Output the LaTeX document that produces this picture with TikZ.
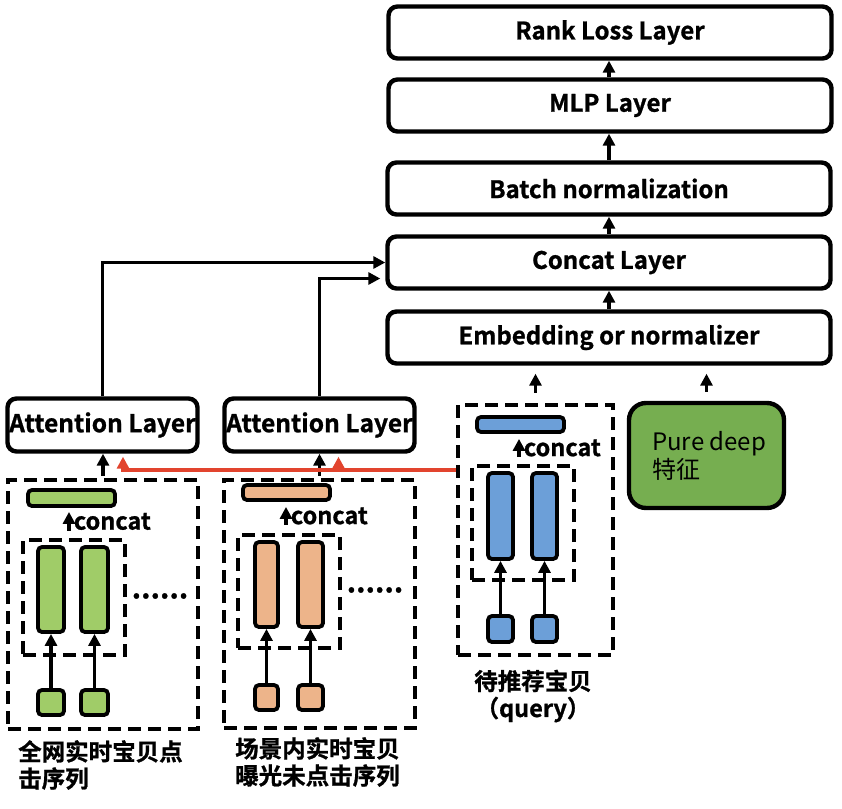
\documentclass[tikz,border=0pt]{standalone}
\usepackage{fontspec}
\setmainfont{Noto Sans CJK SC}[BoldFont={Noto Sans CJK SC Bold},BoldFeatures={FakeBold=1}]
\usetikzlibrary{calc,positioning,arrows.meta}
\definecolor{barGreen}{HTML}{A0CC68}
\definecolor{barOrange}{HTML}{EDB48A}
\definecolor{barBlue}{HTML}{6C9FD8}
\definecolor{deepGreen}{HTML}{76AE50}
\definecolor{lineRed}{HTML}{E2442E}
\begin{document}
\begin{tikzpicture}[x=1pt,y=-1pt,
layer/.style = {draw, line width=4.4pt, rounded corners=9pt, minimum width=443pt, minimum height=52pt, font=\fontsize{24}{28}\selectfont\bfseries, inner sep=0pt},
att/.style = {draw, line width=4.4pt, rounded corners=9pt, minimum width=190pt, minimum height=53pt, font=\fontsize{24.5}{28}\selectfont\bfseries, inner sep=0pt},
dbox/.style = {draw, line width=4.2pt, dash pattern=on 13pt off 7pt, inner sep=0pt},
bar/.style = {draw, line width=3.8pt, rounded corners=4pt, inner sep=0pt},
arr/.style = {line width=3.8pt, -{Triangle[length=12pt,width=12pt]}},
redarr/.style = {draw=lineRed, line width=3.5pt, -{Triangle[length=12pt,width=12pt]}},
tag/.style = {font=\fontsize{23.5}{28}\selectfont\bfseries, inner sep=0pt},
seqlabel/.style = {font=\fontsize{23.5}{27}\selectfont\bfseries, inner sep=0pt, align=left},]
\useasboundingbox (0,0) rectangle (842,808);
\node (R) at (610,32.5)[layer] {Rank Loss Layer};
\node (M) at (610,105.5)[layer] {MLP Layer};
\node (B) at (609,188.5)[layer] {Batch normalization};
\node (C) at (609,262.5)[layer] {Concat Layer};
\node (E) at (609,337.5)[layer] {Embedding or normalizer};
\draw[arr] (E.north -| B.north) -- (C.south -| B.north);
\draw[arr] (C.north -| B.north) -- (B.south);
\draw[arr] (B.north) -- (M.south -| B.north);
\draw[arr] (M.north -| B.north) -- (R.south -| B.north);
\node (A1) at (102.5,425)[att] {Attention Layer};
\node (A2) at (319.5,425)[att] {Attention Layer};
\draw[arr] (A1.north) |- (C.west);
\draw[arr] (A2.north) |- ([xshift=-5pt,yshift=-16pt]C.west);
\node (D1) at (103,604.5)[dbox, minimum width=190pt, minimum height=249pt] {};
\node (D2) at (319.5,604)[dbox, minimum width=191pt, minimum height=248pt] {};
\node (D3) at (535.5,530)[dbox, minimum width=155pt, minimum height=250pt] {};
\node (I1) at (74,597.5)[dbox, minimum width=102pt, minimum height=115pt] {};
\node (I2) at (289,591.5)[dbox, minimum width=102pt, minimum height=113pt] {};
\node (I3) at (523,523)[dbox, minimum width=102pt, minimum height=114pt] {};
\node (G) at (71.5,498)[bar, fill=barGreen, minimum width=87pt, minimum height=16pt] {};
\node (O) at (286.5,492.5)[bar, fill=barOrange, minimum width=87pt, minimum height=15pt] {};
\node (Q) at (520.5,424.5)[bar, fill=barBlue, minimum width=87pt, minimum height=15pt] {};
\node (g1) at (51,589.5)[bar, fill=barGreen, minimum width=26pt, minimum height=85pt] {};
\node (g2) at (94.5,589.5)[bar, fill=barGreen, minimum width=27pt, minimum height=85pt] {};
\node (o1) at (266.5,584.5)[bar, fill=barOrange, minimum width=23pt, minimum height=85pt] {};
\node (o2) at (310.5,584.5)[bar, fill=barOrange, minimum width=25pt, minimum height=85pt] {};
\node (q1) at (500.5,516)[bar, fill=barBlue, minimum width=25pt, minimum height=86pt] {};
\node (q2) at (544.5,516)[bar, fill=barBlue, minimum width=25pt, minimum height=86pt] {};
\node (gs1) at (51,702.5)[bar, fill=barGreen, minimum width=26pt, minimum height=25pt] {};
\node (gs2) at (94.5,702.5)[bar, fill=barGreen, minimum width=27pt, minimum height=25pt] {};
\node (os1) at (266.5,697.5)[bar, fill=barOrange, minimum width=23pt, minimum height=25pt] {};
\node (os2) at (310.5,697.5)[bar, fill=barOrange, minimum width=25pt, minimum height=25pt] {};
\node (qs1) at (500.5,629)[bar, fill=barBlue, minimum width=25pt, minimum height=26pt] {};
\node (qs2) at (544.5,629)[bar, fill=barBlue, minimum width=25pt, minimum height=26pt] {};
\draw[arr] (gs1.north) -- (g1.south);
\draw[arr] (gs2.north) -- (g2.south);
\draw[arr] (os1.north) -- (o1.south);
\draw[arr] (os2.north) -- (o2.south);
\draw[arr] (qs1.north) -- (q1.south);
\draw[arr] (qs2.north) -- (q2.south);
\draw[arr] ($(I1.north)+(-5,-7)$) -- node[right=3pt, tag] {concat} ($(G.south)+(-2.5,4)$);
\draw[arr] ($(I2.north)+(-3,-8)$) -- node[right=3pt, tag] {concat} ($(O.south)+(-0.5,5)$);
\draw[arr] ($(I3.north)+(-4,-7)$) -- node[right=3pt, tag] {concat} ($(Q.south)+(-1.5,5)$);
\node (dots1) at (160,596)[tag, font=\fontsize{29}{30}\selectfont\bfseries] {......};
\node (dots2) at (375,590)[tag, font=\fontsize{29}{30}\selectfont\bfseries] {......};
\node (P) at (706.5,455.5)[draw, line width=4.4pt, rounded corners=17pt, fill=deepGreen, minimum width=155pt, minimum height=105pt] {};
\node (Ptxt) at (652,456)[anchor=west, align=left, inner sep=0pt, font=\fontsize{24}{28}\selectfont] {Pure deep\\特征};
\draw[arr] ([yshift=2pt]D1.north) -- (D1.north |- A1.south);
\draw[arr] ([yshift=2pt]D2.north) -- (D2.north |- A2.south);
\draw[arr] ([yshift=10pt]D3.north) -- ([yshift=-8pt]D3.north |- E.south);
\draw[arr] ([yshift=9pt]P.north) -- ([yshift=-8pt]P.north |- E.south);
\coordinate (Rd) at ($(D3.west)+(0,-60)$);
\draw[redarr] (Rd) -| ([xshift=20.5pt,yshift=-3pt]A1.south);
\draw[redarr] ([xshift=19pt]A2.south |- Rd) -- ([xshift=19pt,yshift=-3pt]A2.south);
\node (L1) at (18,740)[seqlabel, anchor=north west] {全网实时宝贝点\\击序列};
\node (L2) at (235,737)[seqlabel, anchor=north west] {场景内实时宝贝\\曝光未点击序列};
\node (L3) at (533,696)[seqlabel, align=center] {待推荐宝贝\\（query）};
\end{tikzpicture}
\end{document}
